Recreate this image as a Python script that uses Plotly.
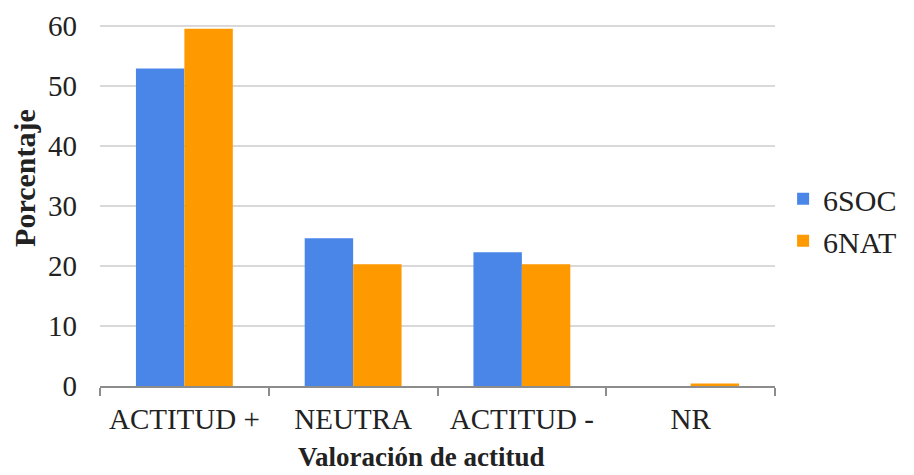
import plotly.graph_objects as go

categories = ["ACTITUD +", "NEUTRA", "ACTITUD -", "NR"]
soc_values = [52.9, 24.6, 22.3, 0]
nat_values = [59.5, 20.3, 20.3, 0.4]
y_ticks = [0, 10, 20, 30, 40, 50, 60]

font_family = "Liberation Serif, Times New Roman, serif"

fig = go.Figure()
fig.add_trace(go.Bar(name="6SOC", x=categories, y=soc_values, marker_color="#4A86E8", marker_line_width=0))
fig.add_trace(go.Bar(name="6NAT", x=categories, y=nat_values, marker_color="#FF9900", marker_line_width=0))

fig.update_layout(
    width=906, height=467,
    margin=dict(l=92, r=139, t=16, b=89, autoexpand=False),
    barmode="group", bargap=0.426, bargroupgap=0,
    plot_bgcolor="white", paper_bgcolor="white",
    font=dict(family=font_family, size=29, color="#222222"),
    legend=dict(x=1.012, y=0.459, xanchor="left", yanchor="middle",
                font=dict(size=30, family=font_family), itemwidth=30),
    showlegend=True,
    annotations=[
        dict(text="<b>Porcentaje</b>", xref="paper", yref="paper", x=-0.111, y=0.575,
             textangle=-90, showarrow=False, xanchor="center", yanchor="middle",
             font=dict(size=30, family=font_family, color="#222222")),
        dict(text="<b>Valoración de actitud</b>", xref="paper", yref="paper", x=0.477, y=-0.197,
             showarrow=False, xanchor="center", yanchor="middle",
             font=dict(size=27, family=font_family, color="#222222")),
    ],
)
fig.update_xaxes(
    automargin=False,
    showline=True, linecolor="#8c8c8c", linewidth=1.5,
    ticks="outside", tickson="boundaries", ticklen=8, tickcolor="#8c8c8c", tickwidth=1.5,
    ticklabelstandoff=6,
    tickfont=dict(size=29, family=font_family),
)
fig.update_yaxes(
    automargin=False,
    range=[0, 60.3], tickvals=y_ticks, showgrid=True, gridcolor="#d9d9d9", gridwidth=1.5,
    showline=False, zeroline=False, ticks="", ticklabelstandoff=22,
    tickfont=dict(size=29, family=font_family),
)
fig.write_html("out.html")
